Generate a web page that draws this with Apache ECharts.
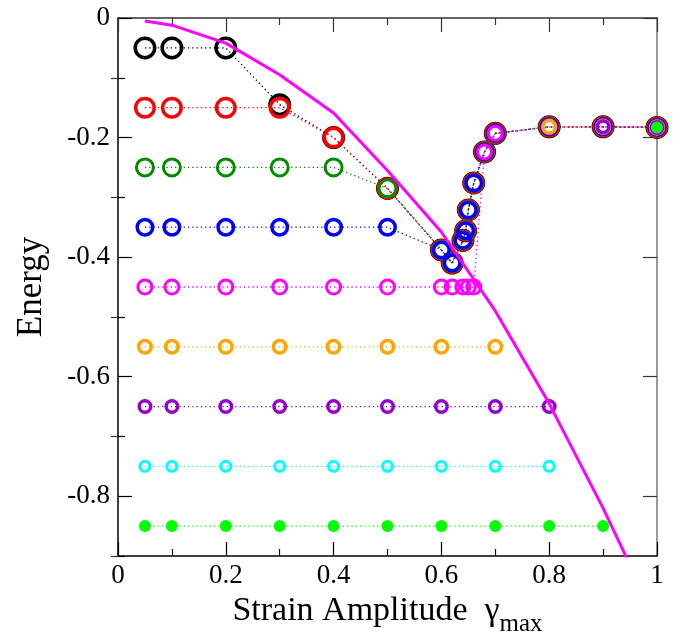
<!DOCTYPE html>
<html>
<head>
<meta charset="utf-8">
<script src="https://cdn.jsdelivr.net/npm/echarts@6/dist/echarts.min.js"></script>
<style>html,body{margin:0;padding:0;background:#fff}#c{width:679px;height:632px}</style>
</head>
<body>
<div id="c"></div>
<script>
// ---- data ----
const levels = [-0.05, -0.15, -0.25, -0.35, -0.45, -0.55, -0.65, -0.75, -0.85];
const plateauX = [
  [0.05, 0.1, 0.2],
  [0.05, 0.1, 0.2, 0.3],
  [0.05, 0.1, 0.2, 0.3, 0.4],
  [0.05, 0.1, 0.2, 0.3, 0.4, 0.5],
  [0.05, 0.1, 0.2, 0.3, 0.4, 0.5, 0.6, 0.62, 0.64, 0.65, 0.66],
  [0.05, 0.1, 0.2, 0.3, 0.4, 0.5, 0.6, 0.7],
  [0.05, 0.1, 0.2, 0.3, 0.4, 0.5, 0.6, 0.7, 0.8],
  [0.05, 0.1, 0.2, 0.3, 0.4, 0.5, 0.6, 0.7, 0.8],
  [0.05, 0.1, 0.2, 0.3, 0.4, 0.5, 0.6, 0.7, 0.8, 0.9]
];
const yieldX = [0.3, 0.4, 0.5, 0.6, 0.62, 0.64, 0.645, 0.65, 0.66, 0.68, 0.7, 0.8, 0.9, 1.0];
const yieldY = [-0.145, -0.2, -0.285, -0.388, -0.41, -0.372, -0.356, -0.321, -0.276, -0.224, -0.193, -0.182, -0.182, -0.183];
// first index on the yielded branch for each series (-1 = none), and whether the jump is drawn
const yieldStart = [0, 1, 2, 3, 9, 11, 12, -1, 13];
const jumpLine = [true, true, true, true, true, false, false, false, false];
const curveX = [0.05, 0.1, 0.2, 0.3, 0.4, 0.5, 0.6, 0.7, 0.8, 0.9, 0.95];
const curveY = [-0.005, -0.012, -0.042, -0.095, -0.159, -0.255, -0.358, -0.49, -0.645, -0.82, -0.915];
const xTicks = [0, 0.2, 0.4, 0.6, 0.8, 1];
const yTicks = [0, -0.2, -0.4, -0.6, -0.8];
const yMinorTicks = [-0.1, -0.3, -0.5, -0.7, -0.9];

// ---- styles ----
const colors = ['#000000', '#ff0000', '#008b00', '#0000ff', '#ff00ff', '#ffa500', '#9400d3', '#00ffff', '#00ff00'];
const sizes = [19.5, 18.5, 17, 15.5, 14, 12.5, 11.5, 10, 12];
const borders = [3.5, 3.5, 3, 3.5, 3, 3.5, 3.5, 3, 0];
const FONT = '"Liberation Serif", "DejaVu Serif", serif';

const series = [];
levels.forEach((lv, i) => {
  const data = plateauX[i].map(x => [x, lv]);
  if (yieldStart[i] >= 0) {
    if (!jumpLine[i]) data.push([null, null]);
    for (let k = yieldStart[i]; k < yieldX.length; k++) data.push([yieldX[k], yieldY[k]]);
  }
  const filled = borders[i] === 0;
  series.push({
    type: 'line',
    data: data,
    color: colors[i],
    connectNulls: false,
    symbol: 'circle',
    symbolSize: sizes[i],
    showAllSymbol: true,
    clip: false,
    lineStyle: { color: colors[i], width: 1.3, type: [1.3, 3], opacity: 1 },
    itemStyle: filled ? { color: colors[i], borderWidth: 0 } :
      { color: 'rgba(255,255,255,0)', borderColor: colors[i], borderWidth: borders[i] },
    emphasis: { disabled: true },
    animation: false,
    z: 3
  });
});
series.push({
  type: 'line',
  data: curveX.map((x, k) => [x, curveY[k]]),
  symbol: 'none',
  clip: true,
  color: '#ff00ff',
  lineStyle: { color: '#ff00ff', width: 3 },
  animation: false,
  z: 4
});

const axisLine = (c) => ({ show: true, onZero: false, lineStyle: { color: c, width: 1.5 } });
const chart = echarts.init(document.getElementById('c'));
chart.setOption({
  backgroundColor: '#fff',
  animation: false,
  grid: { left: 118, top: 18, right: 22, bottom: 76, containLabel: false, outerBoundsMode: 'none' },
  xAxis: [
    {
      type: 'value', min: 0, max: 1, interval: 0.2, position: 'bottom',
      axisLine: axisLine('#000'),
      axisTick: { show: true, inside: true, length: 14, lineStyle: { color: '#000', width: 1.2 } },
      minorTick: { show: true, splitNumber: 2, length: 7, lineStyle: { color: '#000', width: 1.2 } },
      splitLine: { show: false },
      axisLabel: { color: '#000', fontFamily: FONT, fontSize: 27, margin: 6,
        formatter: v => (Math.abs(v) < 1e-9 ? '0' : (Math.abs(v - 1) < 1e-9 ? '1' : String(+v.toFixed(1)))) },
      name: '{t|Strain Amplitude  γ}{s|max}',
      nameLocation: 'middle', nameGap: 30, nameMoveOverlap: false,
      nameTextStyle: { color: '#000', fontFamily: FONT,
        rich: { t: { fontSize: 34, fontFamily: FONT, color: '#000' },
                s: { fontSize: 25, fontFamily: FONT, color: '#000', padding: [26, 0, 0, 0] } } }
    },
    {
      type: 'value', min: 0, max: 1, interval: 0.2, position: 'top',
      axisLine: axisLine('#333'),
      axisTick: { show: true, inside: true, length: 14, lineStyle: { color: '#333', width: 1.2 } },
      minorTick: { show: true, splitNumber: 2, length: 7, lineStyle: { color: '#333', width: 1.2 } },
      splitLine: { show: false }, axisLabel: { show: false }
    }
  ],
  yAxis: [
    {
      type: 'value', min: -0.9, max: 0, position: 'left',
      axisLine: axisLine('#000'),
      axisTick: { show: true, inside: true, length: 14, customValues: yTicks, lineStyle: { color: '#000', width: 1.2 } },
      splitLine: { show: false },
      axisLabel: { customValues: yTicks, color: '#000', fontFamily: FONT, fontSize: 27, margin: 8,
        formatter: v => (Math.abs(v) < 1e-9 ? '0' : String(+v.toFixed(1))) },
      name: 'Energy', nameLocation: 'middle', nameGap: 69, nameRotate: 90, nameMoveOverlap: false,
      nameTextStyle: { color: '#000', fontFamily: FONT, fontSize: 35 }
    },
    {
      type: 'value', min: -0.9, max: 0, position: 'left',
      axisLine: { show: false },
      axisTick: { show: true, inside: true, length: 7, customValues: yMinorTicks, lineStyle: { color: '#000', width: 1.2 } },
      splitLine: { show: false }, axisLabel: { show: false }
    },
    {
      type: 'value', min: -0.9, max: 0, position: 'right',
      axisLine: axisLine('#777'),
      axisTick: { show: true, inside: true, length: 14, customValues: yTicks, lineStyle: { color: '#333', width: 1.2 } },
      splitLine: { show: false }, axisLabel: { show: false }
    },
    {
      type: 'value', min: -0.9, max: 0, position: 'right',
      axisLine: { show: false },
      axisTick: { show: true, inside: true, length: 7, customValues: yMinorTicks, lineStyle: { color: '#333', width: 1.2 } },
      splitLine: { show: false }, axisLabel: { show: false }
    }
  ],
  series: series
});
</script>
</body>
</html>
